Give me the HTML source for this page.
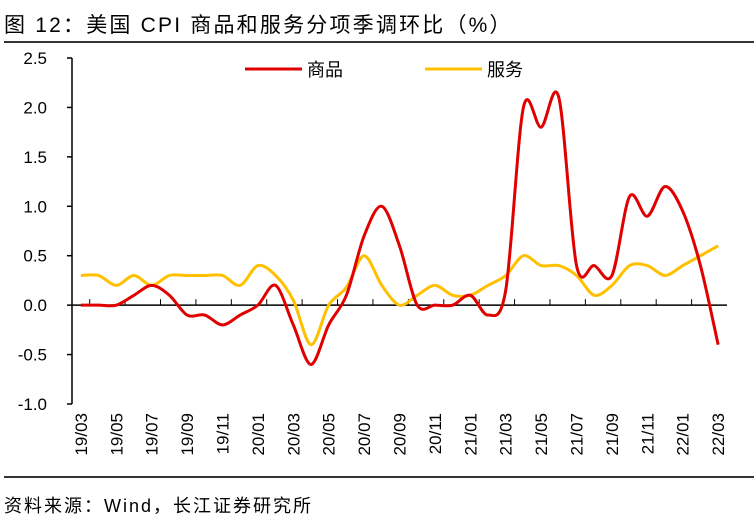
<!DOCTYPE html>
<html><head><meta charset="utf-8"><style>
body{margin:0;width:754px;height:526px;background:#fff;overflow:hidden;font-family:"Liberation Sans","Noto Sans CJK SC",sans-serif;}
svg text{font-family:"Liberation Sans","Noto Sans CJK SC",sans-serif;}
</style></head><body>
<svg id="chart" width="754" height="526">
<text x="4" y="32" font-size="21" letter-spacing="2.2" fill="#000">图 12：美国 CPI 商品和服务分项季调环比（%）</text>
<line x1="4" y1="42" x2="754" y2="42" stroke="#333" stroke-width="2"/>
<line x1="4" y1="477" x2="754" y2="477" stroke="#333" stroke-width="2"/>
<text x="4" y="512" font-size="18" letter-spacing="2" fill="#000">资料来源：Wind，长江证券研究所</text>
<g>
<line x1="245" y1="69" x2="302" y2="69" stroke="#e00000" stroke-width="3"/>
<text x="307" y="76" font-size="18">商品</text>
<line x1="425" y1="69" x2="482" y2="69" stroke="#ffc000" stroke-width="3"/>
<text x="487" y="76" font-size="18">服务</text>
</g>
<g id="axes"></g>
<g id="series"></g>
</svg>
<script>
const categories=["19/03","19/04","19/05","19/06","19/07","19/08","19/09","19/10","19/11","19/12","20/01","20/02","20/03","20/04","20/05","20/06","20/07","20/08","20/09","20/10","20/11","20/12","21/01","21/02","21/03","21/04","21/05","21/06","21/07","21/08","21/09","21/10","21/11","21/12","22/01","22/02","22/03"];
const goods=[0,0,0,0.1,0.2,0.1,-0.1,-0.1,-0.2,-0.1,0,0.2,-0.2,-0.6,-0.2,0.1,0.7,1.0,0.6,0,0,0,0.1,-0.1,0.15,2.0,1.8,2.1,0.4,0.4,0.3,1.1,0.9,1.2,0.95,0.4,-0.4];
const services=[0.3,0.3,0.2,0.3,0.2,0.3,0.3,0.3,0.3,0.2,0.4,0.3,0.05,-0.4,0,0.18,0.5,0.2,0,0.1,0.2,0.1,0.1,0.2,0.3,0.5,0.4,0.4,0.3,0.1,0.2,0.4,0.4,0.3,0.4,0.5,0.6];
const yTicks=[-1.0,-0.5,0.0,0.5,1.0,1.5,2.0,2.5];
const NS="http://www.w3.org/2000/svg";
const L=72,R=727,T=58,B=404,yMin=-1,yMax=2.5;
const band=(R-L)/categories.length;
function xs(i){return L+band*(i+0.5);}
function ys(v){return B-(v-yMin)/(yMax-yMin)*(B-T);}
const ax=document.getElementById('axes');
function mk(tag,attrs,parent){const e=document.createElementNS(NS,tag);for(const k in attrs)e.setAttribute(k,attrs[k]);parent.appendChild(e);return e;}
let yl=mk('line',{x1:L,y1:T,x2:L,y2:B,stroke:'#000','stroke-width':1.5},ax);


yTicks.forEach(v=>{
 const t=mk('line',{x1:L-5,y1:ys(v),x2:L,y2:ys(v),stroke:'#000','stroke-width':1.5},ax);
 
 
 const tx=mk('text',{x:47,y:ys(v)+6,'font-size':17,'text-anchor':'end'},ax);
 tx.textContent=v.toFixed(1);
 
 
});
let xl=mk('line',{x1:L,y1:ys(0),x2:R,y2:ys(0),stroke:'#000','stroke-width':1.5},ax);


categories.forEach((c,i)=>{
 if(i%2===0){
  const tx=mk('text',{x:0,y:0,'font-size':17,'text-anchor':'end',transform:`translate(${xs(i)+6},413) rotate(-90)`},ax);
  tx.textContent=c;
  
  
 }
 if(i%2===1){
  const tk=mk('line',{x1:L+band*i,y1:ys(0)-6,x2:L+band*i,y2:ys(0),stroke:'#000','stroke-width':1},ax);
  
  
 }
});
function smooth(vals){
 const p=vals.map((v,i)=>[xs(i),ys(v)]);
 let d=`M${p[0][0]},${p[0][1]}`;
 const k=0.16;
 for(let i=0;i<p.length-1;i++){
  const p0=p[Math.max(0,i-1)],p1=p[i],p2=p[i+1],p3=p[Math.min(p.length-1,i+2)];
  const c1=[p1[0]+(p2[0]-p0[0])*k,p1[1]+(p2[1]-p0[1])*k];
  const c2=[p2[0]-(p3[0]-p1[0])*k,p2[1]-(p3[1]-p1[1])*k];
  d+=` C${c1[0]},${c1[1]} ${c2[0]},${c2[1]} ${p2[0]},${p2[1]}`;
 }
 return d;
}
const sg=document.getElementById('series');
const s1=mk('path',{d:smooth(services),fill:'none',stroke:'#ffc000','stroke-width':3},sg);


const s2=mk('path',{d:smooth(goods),fill:'none',stroke:'#e00000','stroke-width':3},sg);


</script>
</body></html>
